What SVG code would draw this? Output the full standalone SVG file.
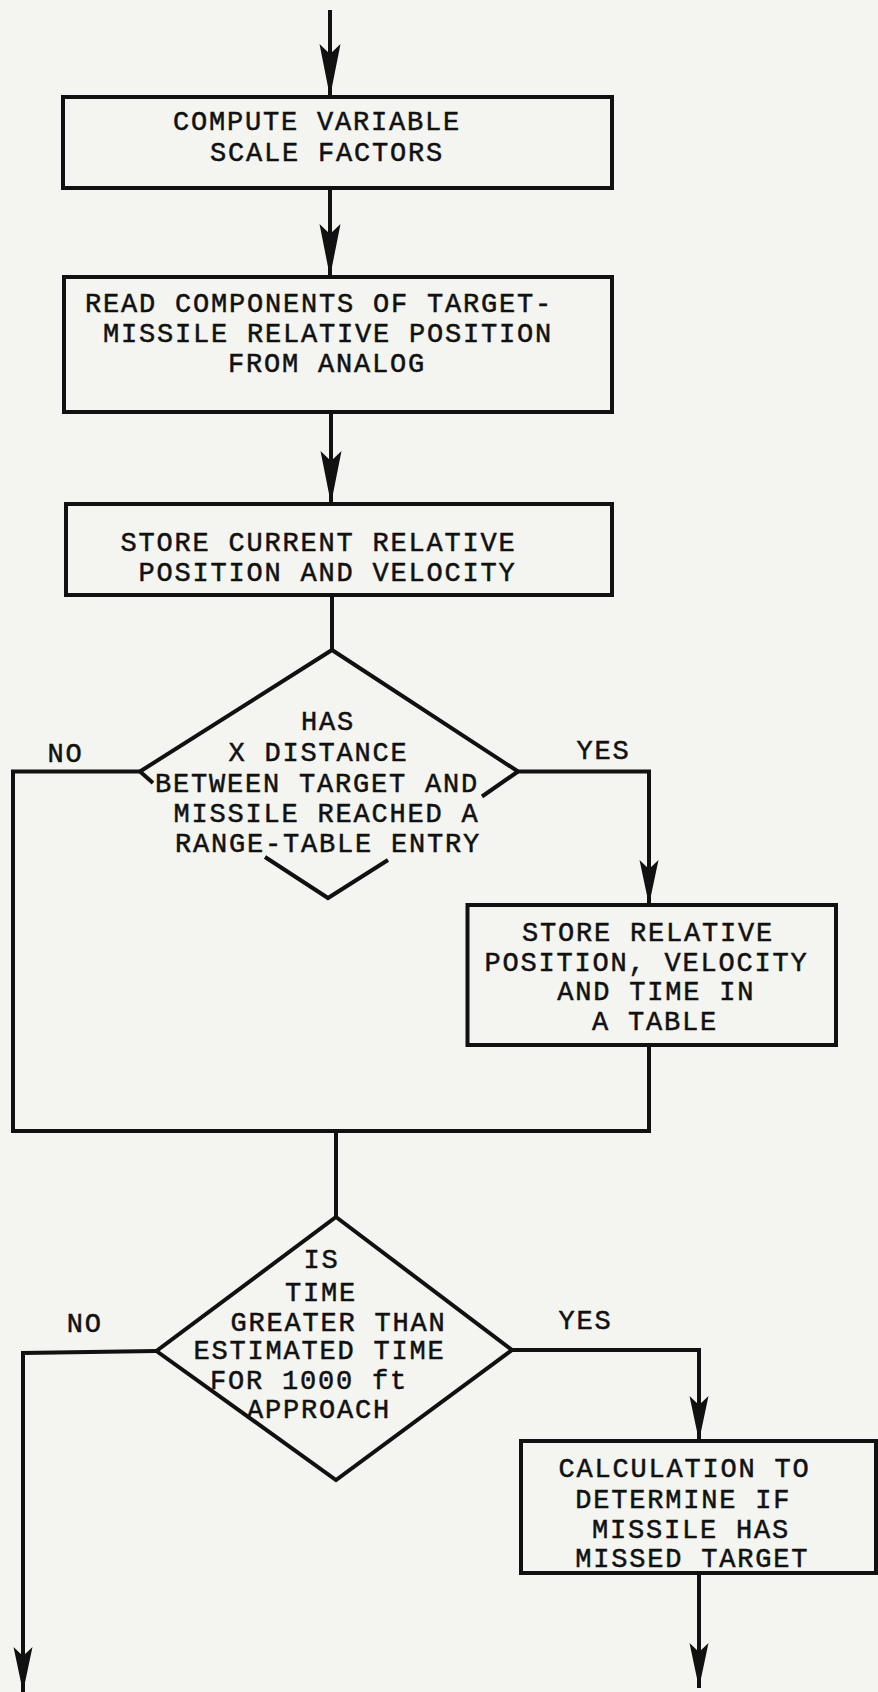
<svg xmlns="http://www.w3.org/2000/svg" width="878" height="1692" viewBox="0 0 878 1692">
<style>
.bg{fill:#f4f4f1}
.box{fill:none;stroke:#111;stroke-width:4}
.ln{fill:none;stroke:#111;stroke-width:4;stroke-linejoin:miter}
text{font-family:"Liberation Mono","Courier New",monospace;font-size:27px;letter-spacing:1.8px;fill:#111;stroke:#111;stroke-width:0.5}
</style>
<defs>
<marker id="aL" markerUnits="userSpaceOnUse" markerWidth="54" markerHeight="24" viewBox="0 0 54 24" refX="53" refY="12" orient="auto">
<path d="M0,1.5 L53,12 L0,22.5 L10,12 Z" fill="#111"/>
</marker>
<marker id="aS" markerUnits="userSpaceOnUse" markerWidth="46" markerHeight="22" viewBox="0 0 46 22" refX="45" refY="11" orient="auto">
<path d="M0,1.5 L45,11 L0,20.5 L9,11 Z" fill="#111"/>
</marker>
</defs>
<rect class="bg" x="0" y="0" width="878" height="1692"/>

<g id="connectors">
<line class="ln" x1="330" y1="10" x2="330" y2="97" marker-end="url(#aL)"/>
<line class="ln" x1="330" y1="188" x2="330" y2="277" marker-end="url(#aL)"/>
<line class="ln" x1="331" y1="412" x2="331" y2="504" marker-end="url(#aL)"/>
<line class="ln" x1="332" y1="595" x2="332" y2="650"/>
<polyline class="ln" points="140,771.5 13,771.5 13,1131 649,1131 649,1045"/>
<polyline class="ln" points="518,771.5 649,771.5 649,905" marker-end="url(#aS)"/>
<line class="ln" x1="336" y1="1131" x2="336" y2="1217"/>
<polyline class="ln" points="156.5,1351 23,1353 23,1692" marker-end="url(#aS)"/>
<polyline class="ln" points="512,1350 699,1350 699,1441" marker-end="url(#aS)"/>
<line class="ln" x1="699" y1="1573" x2="699" y2="1688" marker-end="url(#aS)"/>
</g>

<g id="n1">
<rect class="box" x="63" y="97" width="549" height="91"/>
<text x="173" y="130">COMPUTE VARIABLE</text>
<text x="210" y="160.7">SCALE FACTORS</text>
</g>

<g id="n2">
<rect class="box" x="64" y="277" width="548" height="135"/>
<text x="85" y="311.7">READ COMPONENTS OF TARGET-</text>
<text x="103" y="342">MISSILE RELATIVE POSITION</text>
<text x="228" y="371.7">FROM ANALOG</text>
</g>

<g id="n3">
<rect class="box" x="66" y="504" width="546" height="91"/>
<text x="120.5" y="551">STORE CURRENT RELATIVE</text>
<text x="138.5" y="581">POSITION AND VELOCITY</text>
</g>

<g id="d1">
<path class="ln" d="M140,771.5 L332,650 L518,771.5"/>
<path class="ln" d="M140,771.5 L153,783"/>
<path class="ln" d="M518,771.5 L482,796.5"/>
<path class="ln" d="M265,857 L328,898 L388,860"/>
<text x="301" y="730">HAS</text>
<text x="228.5" y="760.7">X DISTANCE</text>
<text x="155" y="791.7">BETWEEN TARGET AND</text>
<text x="173.5" y="821.7">MISSILE REACHED A</text>
<text x="175" y="851.7">RANGE-TABLE ENTRY</text>
</g>

<g id="lbl1">
<text x="47.5" y="761.7">NO</text>
<text x="576.5" y="759">YES</text>
</g>

<g id="n4">
<rect class="box" x="467.5" y="905" width="368.5" height="140"/>
<text x="522" y="940.7">STORE RELATIVE</text>
<text x="484.5" y="970.7">POSITION, VELOCITY</text>
<text x="557.3" y="1000">AND TIME IN</text>
<text x="592" y="1030">A TABLE</text>
</g>

<g id="d2">
<path class="ln" d="M336,1217 L512,1350 L336,1480 L156.5,1351 Z"/>
<text x="303.5" y="1268.3">IS</text>
<text x="285" y="1300.7">TIME</text>
<text x="230.5" y="1330.7">GREATER THAN</text>
<text x="193.5" y="1359">ESTIMATED TIME</text>
<text x="210" y="1389">FOR 1000 ft</text>
<text x="247" y="1418.3">APPROACH</text>
</g>

<g id="lbl2">
<text x="66.8" y="1331.7">NO</text>
<text x="558.5" y="1329">YES</text>
</g>

<g id="n5">
<rect class="box" x="521" y="1441" width="355" height="132"/>
<text x="558.5" y="1477">CALCULATION TO</text>
<text x="575.2" y="1508">DETERMINE IF</text>
<text x="592" y="1538">MISSILE HAS</text>
<text x="575.2" y="1567">MISSED TARGET</text>
</g>
</svg>
